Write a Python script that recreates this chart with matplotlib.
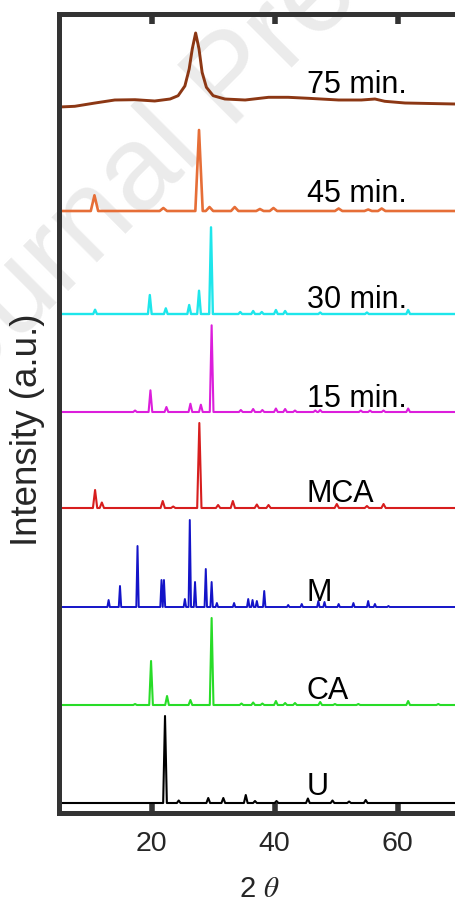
import numpy as np
import matplotlib.pyplot as plt

plt.rcParams['font.family'] = ['Liberation Sans', 'DejaVu Sans']
plt.rcParams['mathtext.fontset'] = 'stix'

# --- diffraction data: peak positions (2theta, deg) and heights (a.u.) ---

u_pos = [22.17, 24.4, 29.2, 31.65, 35.3, 36.8, 40.3, 45.4, 49.4, 52.1, 54.8]
u_int = [87, 2.5, 5, 5, 8, 2, 2, 4.5, 2.5, 1.5, 3]

ca_pos = [17.3, 19.9, 22.5, 26.3, 29.75, 34.6, 36.5, 38.0, 40.2, 41.7, 43.3,
          47.4, 49.8, 53.6, 61.7, 66.6]
ca_int = [1, 44, 9, 5, 87, 1.5, 2.5, 1.5, 4, 2, 2, 3, 1, 1, 4, 1]

m_pos = [13.0, 14.85, 17.7, 21.6, 22.0, 25.4, 26.2, 27.05, 28.8, 29.75, 30.6,
         33.4, 35.7, 36.4, 37.1, 38.3, 42.2, 44.4, 47.1, 48.1, 50.4, 52.8,
         55.2, 56.3, 58.5]
m_int = [7, 21, 61, 27, 27, 8, 87, 25, 38, 25, 4, 4, 8, 7, 6, 16, 2, 3, 6, 5,
         3, 4, 6, 3, 1]

mca_pos = [10.8, 11.9, 21.8, 23.5, 27.75, 30.8, 33.2, 37.1, 39.0, 50.1, 55.0, 57.7]
mca_int = [18, 5.5, 7, 1.5, 85, 3, 7, 3.5, 3, 4, 2, 4]

t15_pos = [17.3, 19.8, 22.4, 26.3, 28.0, 29.75, 34.5, 36.5, 38.0, 40.2, 41.7,
           43.3, 46.6, 47.4, 54.0, 55.5, 57.7, 61.7]
t15_int = [1.5, 21.7, 5, 8.3, 7.3, 86.7, 2, 3, 2, 3.5, 3, 1.5, 1.5, 2, 1.5,
           1.5, 1.5, 3.5]

t30_pos = [10.8, 19.7, 22.3, 26.1, 27.7, 29.65, 34.4, 36.5, 37.9, 40.2, 41.7,
           47.4, 55.0, 61.7]
t30_int = [4.3, 19, 5.7, 9, 23.3, 86.7, 2, 3, 2, 4, 3, 1.5, 1.5, 4]

t45_pos = [10.7, 21.9, 27.7, 29.4, 33.5, 37.6, 39.8, 50.4, 55.2, 57.4]
t45_int = [15.7, 3, 81, 4, 4, 2, 3, 2.5, 1.5, 2.5]

# amorphous-looking 75 min pattern, traced point by point
t75_x = [5.0, 7.5, 10.8, 14.0, 17.3, 20.5, 23.0, 24.3, 25.4, 26.1, 26.6, 27.15,
         27.7, 28.2, 28.9, 30.0, 31.9, 35.2, 39.0, 42.2, 45.5, 50.4, 54.1,
         56.3, 57.9, 61.2, 69.3, 70.0]
t75_y = [0, 0.7, 4, 7, 7.3, 6, 8, 11.3, 21, 38, 58, 74, 58, 34.7, 19.7, 11.3,
         8, 7, 9.7, 9.7, 8.7, 7, 7, 8, 5.7, 4, 3, 3]

sample_names = ['U', 'CA', 'M', 'MCA', '15 min.', '30 min.', '45 min.', '75 min.']
offsets = [10, 108, 206, 305, 401, 499, 602, 706]
label_y = [19, 115, 213, 312, 407, 506, 612, 721]

X_MIN, X_MAX = 5, 70


def stick_trace(pos, height, half_width):
    """Turn a peak table into a polyline with narrow triangular peaks."""
    xs, ys = [X_MIN], [0.0]
    for p, h in zip(pos, height):
        xs += [p - half_width, p, p + half_width]
        ys += [0.0, h, 0.0]
    xs.append(X_MAX)
    ys.append(0.0)
    return np.array(xs), np.array(ys)


traces = [
    stick_trace(u_pos, u_int, 0.3),
    stick_trace(ca_pos, ca_int, 0.3),
    stick_trace(m_pos, m_int, 0.2),
    stick_trace(mca_pos, mca_int, 0.35),
    stick_trace(t15_pos, t15_int, 0.3),
    stick_trace(t30_pos, t30_int, 0.3),
    stick_trace(t45_pos, t45_int, 0.6),
    (np.array(t75_x), np.array(t75_y)),
]
colors = ['#000000', '#28dc28', '#1414c8', '#d71e1e', '#dc1edc', '#1ee6eb',
          '#e66e37', '#8c3714']
widths = [1.5, 1.5, 1.4, 1.5, 1.5, 1.7, 1.9, 2.1]

fig = plt.figure(figsize=(4.55, 9.04), dpi=100)
ax = fig.add_axes([59.4 / 455, 1 - 814 / 904, 399.8 / 455, 799 / 904])

# watermark behind the curves
ax.text(256 / 455, 1 - 104 / 904, 'Journal Pre-proof', transform=fig.transFigure,
        fontsize=87, color='#ebebeb', rotation=45, rotation_mode='anchor',
        ha='center', va='baseline', zorder=0.5, clip_on=False)

for (x, y), off, c, lw in zip(traces, offsets, colors, widths):
    ax.plot(x, y + off, color=c, lw=lw, zorder=2)

for name, ly in zip(sample_names, label_y):
    ax.text(45.2, ly, name, fontsize=22, color='black', ha='left',
            va='baseline', zorder=3)

ax.set_xlim(X_MIN, X_MAX)
ax.set_ylim(0, 799)
ax.set_xticks([20, 40, 60])
ax.set_yticks([])
ax.tick_params(axis='x', direction='in', top=True, bottom=True, length=7,
               width=4, color='#333333', labelsize=20.5, labelcolor='#262626',
               pad=12)
for sp in ax.spines.values():
    sp.set_linewidth(3.6)
    sp.set_color('#333333')

ax.set_xlabel(r'2 $\theta$', fontsize=21, color='#262626')
ax.xaxis.set_label_coords(0.5, -0.076)
fig.text(28 / 455, 1 - 430 / 904, 'Intensity (a.u.)', rotation=90, fontsize=26.5,
         color='#262626', ha='center', va='center')

fig.savefig('out.png', dpi=100)
